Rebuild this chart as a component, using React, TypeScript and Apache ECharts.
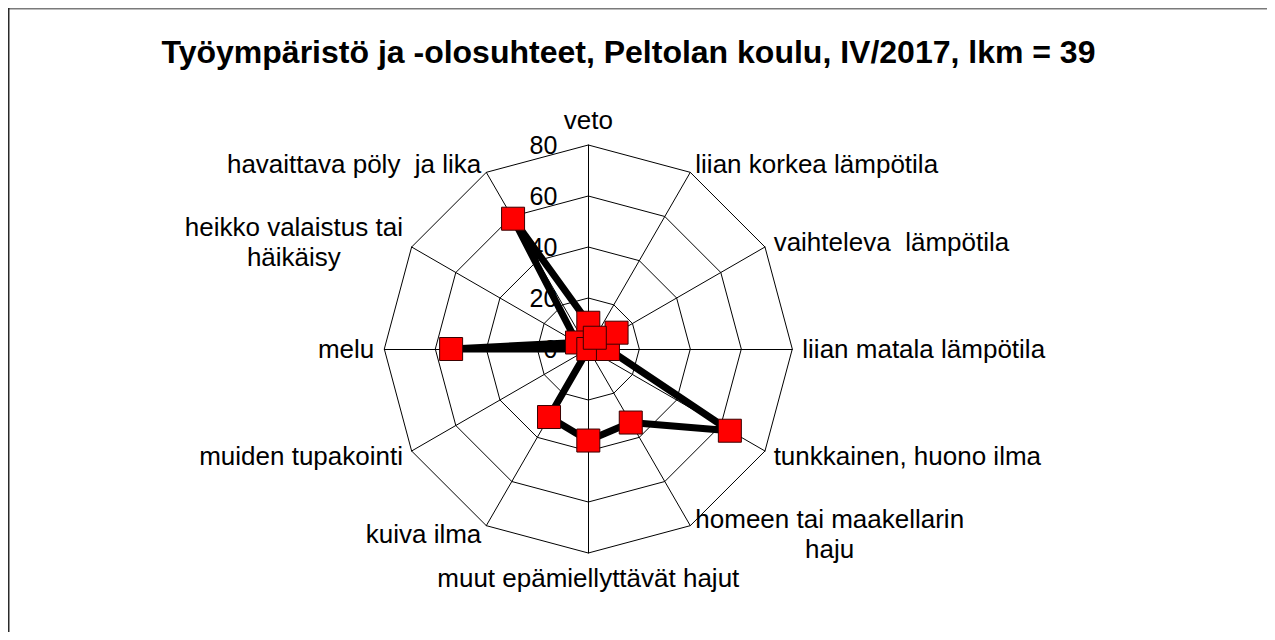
import React, { useEffect, useRef } from "react";
import * as echarts from "echarts";

const FONT = "'Liberation Sans', Arial, Helvetica, sans-serif";

const chartTitle = "Työympäristö ja -olosuhteet, Peltolan koulu, IV/2017, lkm = 39";

// Categories in the reference's clockwise order, starting at the top
const categories = [
  "veto",
  "liian korkea lämpötila",
  "vaihteleva  lämpötila",
  "liian matala lämpötila",
  "tunkkainen, huono ilma",
  "homeen tai maakellarin\nhaju",
  "muut epämiellyttävät hajut",
  "kuiva ilma",
  "muiden tupakointi",
  "melu",
  "heikko valaistus tai\nhäikäisy",
  "havaittava pöly  ja lika",
];

// Percent of respondents (n = 39)
const values = [10.3, 5.1, 12.8, 7.7, 64.1, 33.3, 35.9, 30.8, 0, 53.8, 5.1, 59.0];

const axisMin = 0;
const axisMax = 80;
const splitCount = 4;

// ECharts lays radar indicators out counter-clockwise; the reference runs clockwise
const order = [0, ...categories.map((_, i) => i).slice(1).reverse()];

export default function App() {
  const ref = useRef<HTMLDivElement>(null);

  useEffect(() => {
    if (!ref.current) return;
    const chart = echarts.init(ref.current, undefined, { renderer: "svg" });

    const indicator = order.map((i, k) => {
      const ind: any = { name: categories[i], min: axisMin, max: axisMax };
      if (k === 0) ind.axisLabel = { show: true };
      return ind;
    });

    chart.setOption({
      animation: false,
      backgroundColor: "#ffffff",
      title: {
        text: chartTitle,
        left: 620.5,
        textAlign: "center",
        top: 28,
        padding: 0,
        textStyle: {
          fontSize: 32,
          fontWeight: "bold",
          fontFamily: FONT,
          color: "#000",
        },
      },
      graphic: [
        {
          type: "line",
          shape: { x1: 0, y1: 0.75, x2: 1259, y2: 0.75 },
          style: { stroke: "#7a7a7a", lineWidth: 1.5 },
          silent: true,
        },
        {
          type: "line",
          shape: { x1: 0.75, y1: 0, x2: 0.75, y2: 624 },
          style: { stroke: "#2a2a2a", lineWidth: 1.5 },
          silent: true,
        },
      ],
      radar: {
        center: [580.3, 341],
        radius: 204,
        startAngle: 90,
        splitNumber: splitCount,
        shape: "polygon",
        nameGap: 10,
        axisName: {
          color: "#000",
          fontSize: 26,
          fontFamily: FONT,
          formatter: (name: string) =>
            name
              .split("\n")
              .map((s) => `{c|${s}}`)
              .join("\n"),
          rich: {
            c: {
              align: "center",
              fontSize: 26,
              fontFamily: FONT,
              color: "#000",
              lineHeight: 30,
            },
          },
        },
        axisLine: { show: true, lineStyle: { color: "#000", width: 1 } },
        splitLine: { show: true, lineStyle: { color: "#000", width: 1 } },
        splitArea: { show: false },
        axisTick: { show: false },
        axisLabel: {
          show: false,
          color: "#000",
          fontSize: 25,
          fontFamily: FONT,
          margin: 31,
        },
        indicator,
      },
      series: [
        {
          type: "radar",
          symbol: "rect",
          symbolSize: 23,
          lineStyle: { color: "#000", width: 7 },
          itemStyle: { color: "#ff0000", borderColor: "#3a0000", borderWidth: 1 },
          data: [
            {
              name: "lkm",
              value: order.map((i) => values[i]),
            },
          ],
        },
      ],
    });

    return () => chart.dispose();
  }, []);

  return <div ref={ref} style={{ width: 1259, height: 624 }} />;
}
